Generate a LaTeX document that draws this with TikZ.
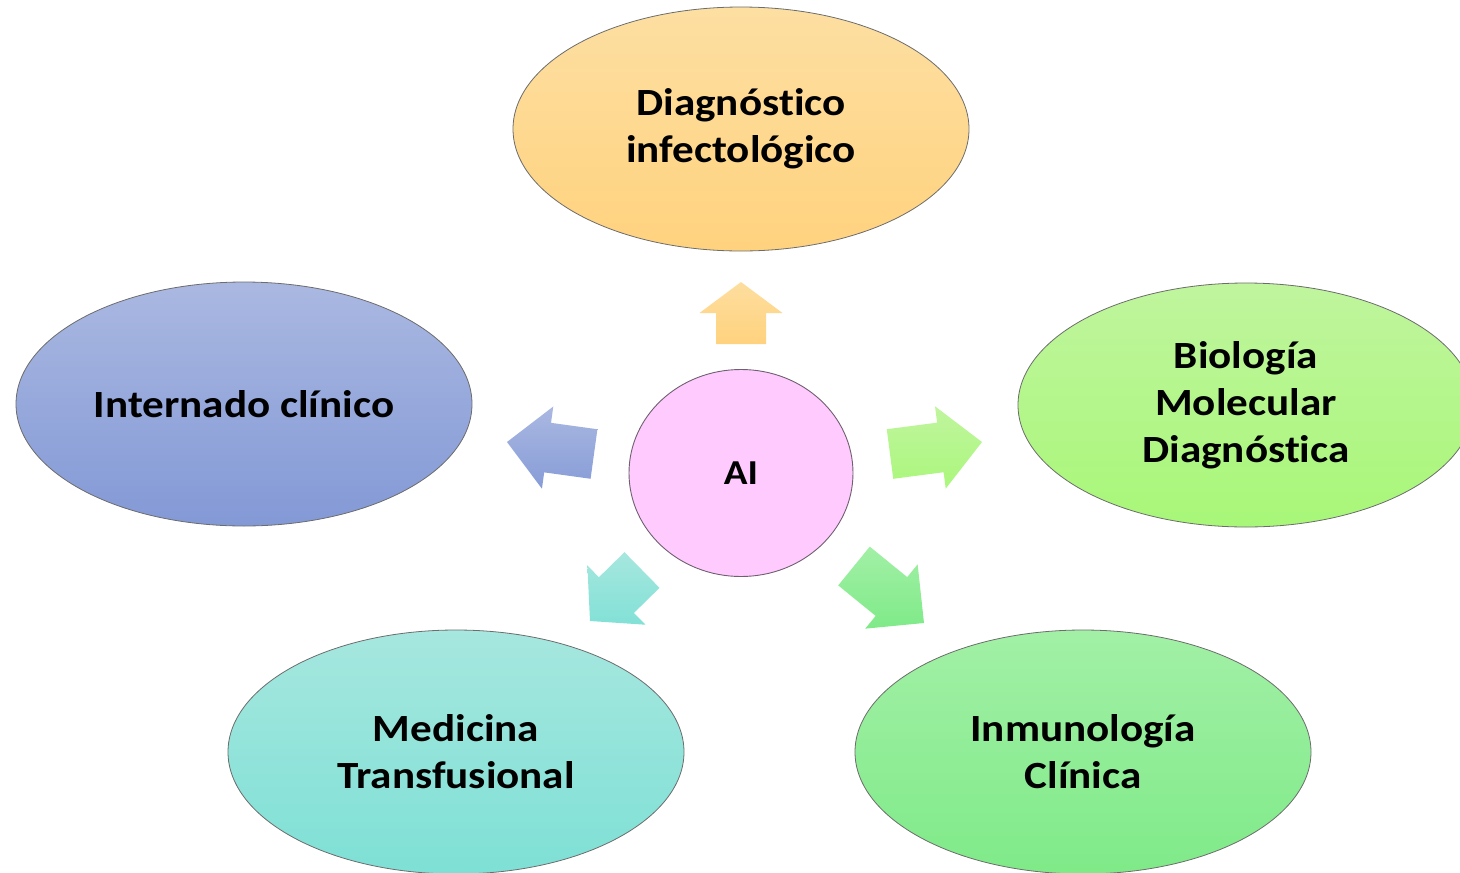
\documentclass[tikz,border=0pt]{standalone}
\usepackage{fontspec}
\setmainfont{Carlito}[FakeStretch=1.12, Ligatures=NoCommon]
\usetikzlibrary{shapes.geometric,calc}

\definecolor{diagtop}{HTML}{FDDFA2}
\definecolor{diagbot}{HTML}{FFD27E}
\definecolor{interntop}{HTML}{AAB8E1}
\definecolor{internbot}{HTML}{8399D6}
\definecolor{biotop}{HTML}{C0F59E}
\definecolor{biobot}{HTML}{A8F778}
\definecolor{medtop}{HTML}{A6E7DF}
\definecolor{medbot}{HTML}{7EE0D5}
\definecolor{inmtop}{HTML}{A2F0A6}
\definecolor{inmbot}{HTML}{7FEA88}
\definecolor{aifill}{HTML}{FFCBFE}
\definecolor{ailine}{HTML}{6F5F70}

\tikzset{
  area/.style={ellipse, draw=gray!85!black, line width=0.8pt,
    minimum width=456pt, minimum height=244pt, inner sep=0pt, align=center,
    font=\fontsize{38.5}{47}\selectfont\bfseries},
  hub/.style={ellipse, draw=ailine, line width=0.9pt, fill=aifill,
    minimum width=224pt, minimum height=207pt, inner sep=0pt,
    font=\fontsize{35}{40}\selectfont\bfseries}
}

% tail, tip, head length, top colour, bottom colour
\newcommand{\fatarrow}[5]{%
  \coordinate (#1-neck) at ($(#2)!#3!(#1)$);
  \shade[top color=#4, bottom color=#5]
    ($(#1)!25pt!90:(#2)$) -- ($(#1-neck)!25pt!90:(#2)$)
    -- ($(#1-neck)!41.5pt!90:(#2)$) -- (#2)
    -- ($(#1-neck)!41.5pt!-90:(#2)$) -- ($(#1-neck)!25pt!-90:(#2)$)
    -- ($(#1)!25pt!-90:(#2)$) -- cycle;
}

\begin{document}
\begin{tikzpicture}[x=1pt, y=-1pt]
\useasboundingbox (0,0) rectangle (1460,873);
\clip (0,0) rectangle (1460,873);

\node[hub] (ai) at (741,473) {AI};

\node[area, top color=diagtop, bottom color=diagbot] (diag) at (741,129) {Diagnóstico\\infectológico};
\node[area, top color=interntop, bottom color=internbot] (intern) at (244,404) {Internado clínico};
\node[area, top color=biotop, bottom color=biobot] (bio) at (1246,405) {Biología\\Molecular\\Diagnóstica};
\node[area, top color=medtop, bottom color=medbot] (med) at (456,752) {Medicina\\Transfusional};
\node[area, top color=inmtop, bottom color=inmbot] (inm) at (1083,752) {Inmunología\\Clínica};

% arrows out of the hub
\coordinate (diag-tail) at (741,344);   \coordinate (diag-tip) at (741,282);
\coordinate (intern-tail) at (594,454); \coordinate (intern-tip) at (507,442);
\coordinate (bio-tail) at (890,454);    \coordinate (bio-tip) at (982,442);
\coordinate (med-tail) at (642,570);    \coordinate (med-tip) at (590,621);
\coordinate (inm-tail) at (854,566);    \coordinate (inm-tip) at (924,623);

\fatarrow{diag-tail}{diag-tip}{31pt}{diagtop!90!diagbot}{diagbot}
\fatarrow{intern-tail}{intern-tip}{41pt}{interntop}{internbot!90!interntop}
\fatarrow{bio-tail}{bio-tip}{42pt}{biotop}{biobot!90!biotop}
\fatarrow{med-tail}{med-tip}{37pt}{medtop}{medbot!90!medtop}
\fatarrow{inm-tail}{inm-tip}{42pt}{inmtop}{inmbot}
\end{tikzpicture}
\end{document}
